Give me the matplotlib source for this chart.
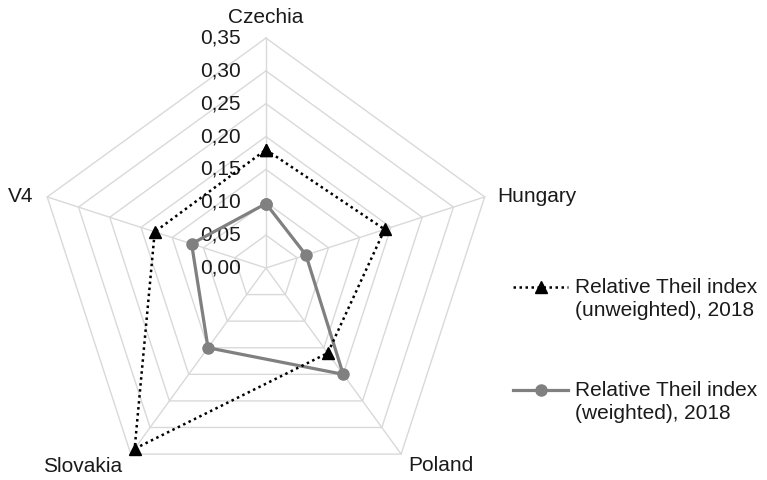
import numpy as np
import matplotlib.pyplot as plt
from matplotlib.lines import Line2D

plt.rcParams['font.family'] = ['Liberation Sans', 'DejaVu Sans']

countries = ['Czechia', 'Hungary', 'Poland', 'Slovakia', 'V4']
unweighted = [0.18, 0.19, 0.16, 0.34, 0.178]
weighted = [0.098, 0.064, 0.20, 0.15, 0.119]
ticks = [0.00, 0.05, 0.10, 0.15, 0.20, 0.25, 0.30, 0.35]
tick_labels = ['0,00', '0,05', '0,10', '0,15', '0,20', '0,25', '0,30', '0,35']
series_labels = ['Relative Theil index\n(unweighted), 2018',
                 'Relative Theil index\n(weighted), 2018']
rmax = 0.35

n = len(countries)
theta = np.arange(n) * 2 * np.pi / n
theta_closed = np.append(theta, theta[0])

W, H = 767, 480
fig = plt.figure(figsize=(W / 100, H / 100), dpi=100)
ax = fig.add_axes([0.0469, -0.0375, 0.5997, 0.9583], projection='polar')
ax.set_theta_offset(np.pi / 2)
ax.set_theta_direction(-1)
ax.set_ylim(0, rmax)
ax.grid(False)
ax.spines['polar'].set_visible(False)
ax.set_xticks([])
ax.set_yticks([])
ax.patch.set_alpha(0)

grid_col = '#d9d9d9'
# pentagon rings
for r in ticks[1:]:
    ax.plot(theta_closed, [r] * (n + 1), color=grid_col, lw=1, zorder=1, clip_on=False)
# spokes
for t in theta:
    ax.plot([t, t], [0, rmax], color=grid_col, lw=1, zorder=1, clip_on=False)

# series styles
styles = [dict(color='black', lw=1.8, linestyle=(0, (1, 1.4)), marker='^', markersize=8),
          dict(color='#808080', lw=2.3, linestyle='-', marker='o', markersize=8)]

ax.plot(theta_closed, unweighted + unweighted[:1], zorder=4, clip_on=False, **styles[0])
ax.plot(theta_closed, weighted + weighted[:1], zorder=3, clip_on=False, **styles[1])

# radial tick labels
for r, lab in zip(ticks, tick_labels):
    ax.annotate(lab, xy=(0, r), xytext=(-18, 0), textcoords='offset points',
                ha='right', va='center', fontsize=15, color='#1a1a1a', zorder=2)

# category labels
offsets = [(0, 15, 'center', 'center'), (9, 0, 'left', 'center'),
           (5, -8, 'left', 'center'), (-6, -9, 'right', 'center'),
           (-10, 0, 'right', 'center')]
for t, name, (dx, dy, ha, va) in zip(theta, countries, offsets):
    ax.annotate(name, xy=(t, rmax), xytext=(dx, dy), textcoords='offset points',
                ha=ha, va=va, fontsize=15, color='#1a1a1a')

# legend, handle on the first text line (as in the original)
leg_y = [287, 390]
for y, st, lab in zip(leg_y, styles, series_labels):
    yf = 1 - y / H
    fig.add_artist(Line2D([513 / W, 568 / W], [yf, yf], color=st['color'], lw=st['lw'],
                          linestyle=st['linestyle']))
    fig.add_artist(Line2D([541 / W], [yf], color=st['color'], marker=st['marker'],
                          markersize=st['markersize'], linestyle='none'))
    fig.text(575 / W, yf + 9 / H, lab, ha='left', va='top', fontsize=15,
             color='#1a1a1a', linespacing=1.25)

fig.savefig('out.png', dpi=100)
